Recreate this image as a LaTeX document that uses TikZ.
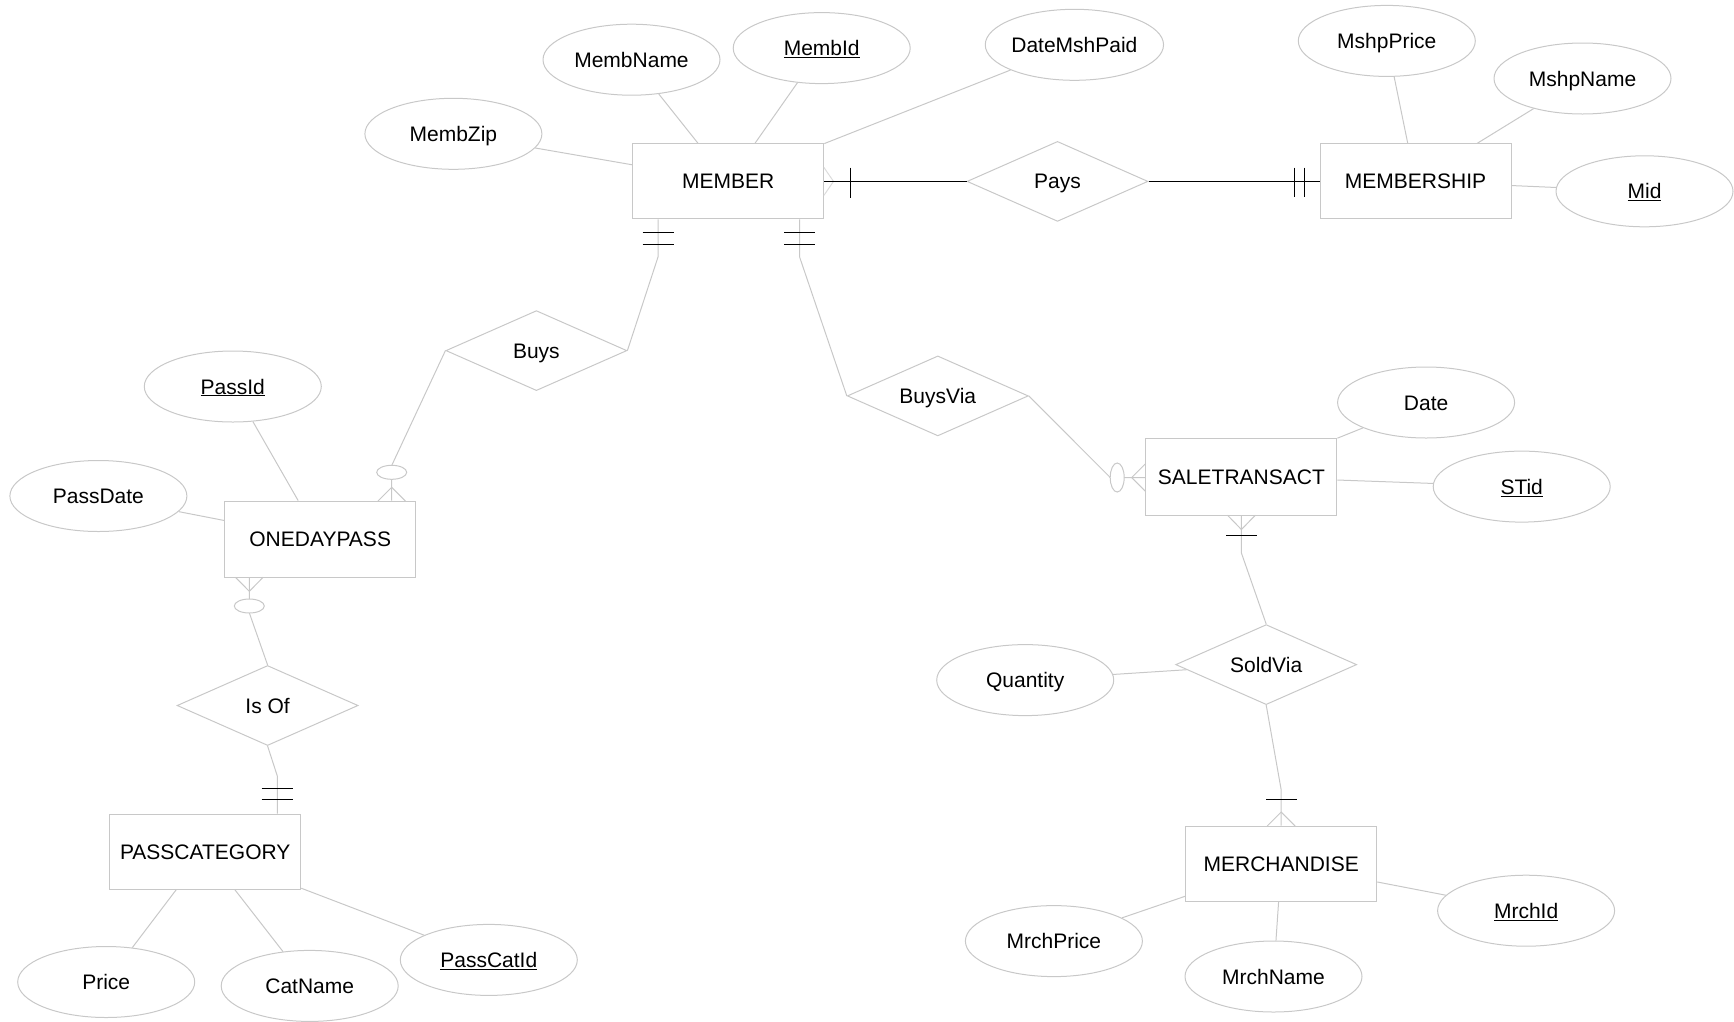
\documentclass[tikz,border=0pt]{standalone}
\usepackage{fontspec}
\setmainfont{Liberation Sans}
\usetikzlibrary{shapes.geometric}
\definecolor{lg}{RGB}{200,200,200}
\definecolor{vlg}{RGB}{220,220,220}
\begin{document}
\begin{tikzpicture}[x=1pt,y=-1pt,
  every node/.style={font=\fontsize{21}{25}\selectfont, text=black, text height=15pt, text depth=0pt},
  entity/.style={draw=lg, line width=1pt, rectangle, minimum width=191pt, minimum height=75pt, inner sep=0pt},
  attr/.style={draw=lg, line width=1pt, ellipse, minimum width=177pt, minimum height=71pt, inner sep=0pt},
  rel/.style={draw=lg, line width=1pt, diamond, aspect=2.25, minimum width=181pt, minimum height=80pt, inner sep=0pt},
  conn/.style={draw=lg, line width=1pt},
  bar/.style={draw=black, line width=1pt},
  foot/.style={draw=lg, line width=1pt},
  circ/.style={draw=lg, fill=white, line width=1pt},
]
\useasboundingbox (0,0) rectangle (1734,1021);

% entities
\node[entity] (member) at (728.3,181.4) {MEMBER};
\node[entity] (membership) at (1415.5,181.4) {MEMBERSHIP};
\node[entity, minimum height=76pt] (onedaypass) at (320.2,539.1) {ONEDAYPASS};
\node[entity] (passcat) at (205.2,851.5) {PASSCATEGORY};
\node[entity, minimum height=77pt] (saletr) at (1241.4,476.6) {SALETRANSACT};
\node[entity] (merch) at (1281.2,863.5) {MERCHANDISE};

% relationships
\node[rel] (pays) at (1057.5,181.4) {Pays};
\node[rel] (buys) at (536.4,350.6) {Buys};
\node[rel] (buysvia) at (937.8,395.9) {BuysVia};
\node[rel] (isof) at (267.6,705.5) {Is Of};
\node[rel] (soldvia) at (1266.2,664.6) {SoldVia};

% attributes
\node[attr] (membzip) at (453.4,133.8) {MembZip};
\node[attr] (membname) at (631.5,59.7) {MembName};
\node[attr] (membid) at (821.7,48.1) {\underline{MembId}};
\node[attr] (datemsh) at (1074.4,44.8) {DateMshPaid};
\node[attr] (mshpprice) at (1386.8,40.9) {MshpPrice};
\node[attr] (mshpname) at (1582.5,78.5) {MshpName};
\node[attr] (mid) at (1644.5,191.3) {\underline{Mid}};
\node[attr] (passid) at (232.8,386.5) {\underline{PassId}};
\node[attr] (passdate) at (98.4,496) {PassDate};
\node[attr] (price) at (106.2,982) {Price};
\node[attr] (catname) at (309.7,985.9) {CatName};
\node[attr] (passcatid) at (488.8,959.9) {\underline{PassCatId}};
\node[attr] (date) at (1426.1,402.5) {Date};
\node[attr] (stid) at (1521.7,486.6) {\underline{STid}};
\node[attr] (quantity) at (1025.2,680.1) {Quantity};
\node[attr] (mrchprice) at (1053.9,941.1) {MrchPrice};
\node[attr] (mrchname) at (1273.5,976.5) {MrchName};
\node[attr] (mrchid) at (1526.1,910.7) {\underline{MrchId}};

% attribute links
\draw[conn] (membzip) -- (member);
\draw[conn] (membname) -- (member);
\draw[conn] (membid) -- (member);
\draw[conn] (datemsh) -- (member);
\draw[conn] (mshpprice) -- (membership);
\draw[conn] (mshpname) -- (membership);
\draw[conn] (mid) -- (membership);
\draw[conn] (passid) -- (onedaypass);
\draw[conn] (passdate) -- (onedaypass);
\draw[conn] (price) -- (passcat);
\draw[conn] (catname) -- (passcat);
\draw[conn] (passcatid) -- (passcat);
\draw[conn] (date) -- (saletr);
\draw[conn] (stid) -- (saletr);
\draw[conn] (quantity) -- (soldvia);
\draw[conn] (mrchprice) -- (merch);
\draw[conn] (mrchname) -- (merch);
\draw[conn] (mrchid) -- (merch);

% MEMBER - Pays - MEMBERSHIP
\draw[draw=vlg, line width=1pt] (823.9,167.4) -- (833.5,181.4) -- (823.9,195.4);
\draw[bar] (member.east) -- (pays.west);
\draw[bar] (pays.east) -- (membership.west);
\draw[bar] (850.6,167.5) -- (850.6,197.5);
\draw[bar] (1294,167.5) -- (1294,196.5) (1304,167.5) -- (1304,196.5);

% MEMBER - Buys - ONEDAYPASS
\coordinate (mbuys) at (658,257);
\draw[conn] (member.south -| mbuys) -- (mbuys) -- (buys.east);
\draw[bar] (642.5,232.5) -- (673.5,232.5) (642.5,244.5) -- (673.5,244.5);
\coordinate (odtop) at (391.7,465.5);
\draw[conn] (buys.west) -- (odtop) -- (onedaypass.north -| odtop);
\draw[foot] (378,501) -- (391.7,487.3) -- (405.4,501);
\draw[circ] (391.7,472.3) ellipse [x radius=15, y radius=7];

% MEMBER - BuysVia - SALETRANSACT
\coordinate (mbv) at (799.6,257);
\draw[conn] (member.south -| mbv) -- (mbv) -- (buysvia.west);
\draw[bar] (784,232.5) -- (815,232.5) (784,244.5) -- (815,244.5);
\coordinate (stleft) at (1110.2,477.5);
\draw[conn] (buysvia.east) -- (stleft) -- (saletr.west |- stleft);
\draw[foot] (1145.7,463.5) -- (1131.7,477.5) -- (1145.7,491.5);
\draw[circ] (1117.2,477.5) ellipse [x radius=7, y radius=14.5];

% ONEDAYPASS - Is Of - PASSCATEGORY
\coordinate (odbot) at (249.3,612.8);
\draw[conn] (isof.north) -- (odbot) -- (onedaypass.south -| odbot);
\draw[foot] (235.5,577.3) -- (249.3,591.3) -- (263.1,577.3);
\draw[circ] (249.3,606) ellipse [x radius=15, y radius=7];
\coordinate (pctop) at (277.3,776);
\draw[conn] (isof.south) -- (pctop) -- (passcat.north -| pctop);
\draw[bar] (261.5,788.7) -- (293,788.7) (261.5,799.8) -- (293,799.8);

% SALETRANSACT - SoldVia - MERCHANDISE
\coordinate (stbot) at (1241.4,553);
\draw[conn] (saletr.south) -- (stbot) -- (soldvia.north);
\draw[foot] (1227.4,515.1) -- (1241.4,529.5) -- (1255.4,515.1);
\draw[bar] (1226,535.3) -- (1257,535.3);
\coordinate (mtop) at (1281.2,790);
\draw[conn] (merch.north) -- (mtop) -- (soldvia.south);
\draw[foot] (1267.2,826) -- (1281.2,812) -- (1295.2,826);
\draw[bar] (1266,799.3) -- (1297,799.3);
\end{tikzpicture}
\end{document}
